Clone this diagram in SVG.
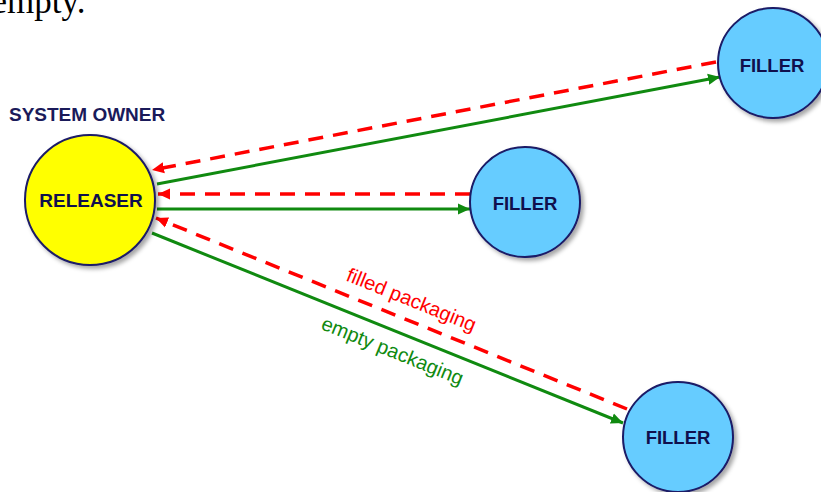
<svg xmlns="http://www.w3.org/2000/svg" width="821" height="492" viewBox="0 0 821 492">
  <defs>
    <filter id="shadow" x="-20%" y="-20%" width="150%" height="150%">
      <feDropShadow dx="3" dy="3" stdDeviation="2" flood-color="#000" flood-opacity="0.35"/>
    </filter>
    <marker id="arrow-green" markerUnits="userSpaceOnUse" markerWidth="13" markerHeight="12" refX="12" refY="6" orient="auto">
      <path d="M0,0.5 L12,6 L0,11.5 z" fill="#108a10"/>
    </marker>
    <marker id="arrow-red" markerUnits="userSpaceOnUse" markerWidth="13" markerHeight="12" refX="12" refY="6" orient="auto">
      <path d="M0,0.5 L12,6 L0,11.5 z" fill="#ff0000"/>
    </marker>
  </defs>
  <style>
    .node circle { stroke: #1a1a66; stroke-width: 2; filter: url(#shadow); }
    .releaser { fill: #ffff00; }
    .filler { fill: #66ccff; }
    .label { font-family: "Liberation Sans", Arial, sans-serif; font-weight: bold; fill: #10104d; text-anchor: middle; }
    .flow-empty { stroke: #108a10; stroke-width: 3; fill: none; marker-end: url(#arrow-green); }
    .flow-filled { stroke: #ff0000; stroke-width: 3.5; fill: none; stroke-dasharray: 15 10; marker-end: url(#arrow-red); }
    .edge-text { font-family: "Liberation Sans", Arial, sans-serif; font-size: 20px; text-anchor: middle; }
  </style>

  <rect width="821" height="492" fill="#ffffff"/>

  <!-- end of the preceding paragraph -->
  <text x="-8.5" y="13" font-family="'Liberation Serif', 'Times New Roman', serif" font-size="35" fill="#000">empty.</text>

  <text x="9" y="121" font-family="'Liberation Sans', Arial, sans-serif" font-weight="bold" font-size="19" fill="#1a1a5a">SYSTEM OWNER</text>

  <g id="connectors">
    <line class="flow-filled" x1="716" y1="62" x2="152" y2="170"/>
    <line class="flow-empty" x1="157" y1="184" x2="720" y2="77"/>
    <line class="flow-filled" x1="470" y1="194" x2="158" y2="194"/>
    <line class="flow-empty" x1="157" y1="209" x2="470" y2="209"/>
    <line class="flow-filled" x1="627" y1="409" x2="156" y2="218"/>
    <line class="flow-empty" x1="152" y1="233" x2="623" y2="423"/>
    <text class="edge-text" fill="#ff0000" transform="translate(409,306) rotate(22)">filled packaging</text>
    <text class="edge-text" fill="#108a10" transform="translate(390,357) rotate(22)">empty packaging</text>
  </g>

  <g id="releaser" class="node">
    <circle class="releaser" cx="90" cy="200" r="65"/>
    <text class="label" x="91" y="207" font-size="19">RELEASER</text>
  </g>

  <g id="filler-top" class="node">
    <circle class="filler" cx="773" cy="63" r="55"/>
    <text class="label" x="772" y="72" font-size="18.5">FILLER</text>
  </g>

  <g id="filler-middle" class="node">
    <circle class="filler" cx="525" cy="202" r="55"/>
    <text class="label" x="525" y="210" font-size="18.5">FILLER</text>
  </g>

  <g id="filler-bottom" class="node">
    <circle class="filler" cx="678" cy="437" r="55"/>
    <text class="label" x="678" y="444" font-size="18.5">FILLER</text>
  </g>
</svg>
